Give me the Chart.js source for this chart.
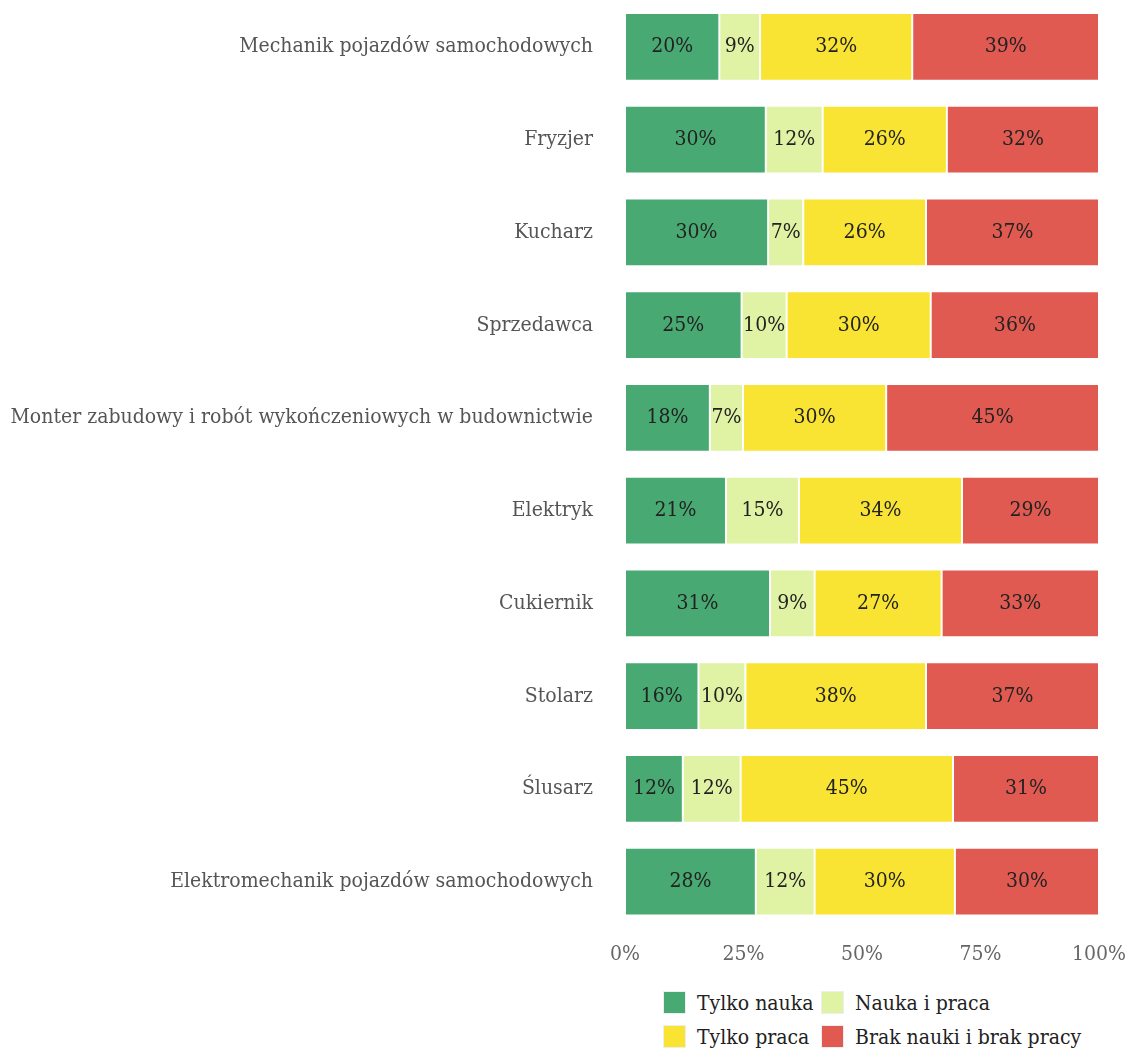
<!DOCTYPE html>
<html>
<head>
<meta charset="utf-8">
<script src="https://cdn.jsdelivr.net/npm/chart.js@4"></script>
<style>
  body { margin: 0; background: #fff; font-family: "DejaVu Serif Condensed", "DejaVu Serif", serif; }
  #wrap { position: relative; width: 1131px; height: 1050px; overflow: hidden; }
  #chart { position: absolute; left: 0; top: -12px; }
  #legend { position: absolute; left: 663px; top: 991px; display: grid;
    grid-template-columns: 158px 300px; row-gap: 11px; font-size: 21px; color: #222; }
  .item { display: flex; align-items: center; height: 23px; white-space: nowrap; }
  .box { width: 23px; height: 23px; margin-right: 11px; box-sizing: border-box; border: 1px solid #eee; flex: none; }
</style>
</head>
<body>
<div id="wrap">
  <canvas id="chart" width="1131" height="992"></canvas>
  <div id="legend"></div>
</div>
<script>
  // --------------------
  // Data
  // --------------------
  const categories = [
    "Mechanik pojazdów samochodowych",
    "Fryzjer",
    "Kucharz",
    "Sprzedawca",
    "Monter zabudowy i robót wykończeniowych w budownictwie",
    "Elektryk",
    "Cukiernik",
    "Stolarz",
    "Ślusarz",
    "Elektromechanik pojazdów samochodowych",
  ];
  const seriesNames = ["Tylko nauka", "Nauka i praca", "Tylko praca", "Brak nauki i brak pracy"];
  const tylkoNauka = [19.9, 29.7, 30.2, 24.6, 17.9, 21.3, 30.6, 15.5, 12.2, 27.6];
  const naukaIPraca = [8.6, 12.0, 7.4, 9.5, 7.0, 15.4, 9.4, 9.9, 12.2, 12.4];
  const tylkoPraca = [32.1, 26.2, 25.9, 30.4, 30.2, 34.4, 26.8, 38.1, 44.8, 29.6];
  const brak = [39.4, 32.1, 36.5, 35.5, 44.9, 28.9, 33.2, 36.5, 30.8, 30.4];
  const xTicks = [0, 25, 50, 75, 100];

  const colors = ["#48aa72", "#e0f2a3", "#f9e433", "#e05a52"];
  const seriesValues = [tylkoNauka, naukaIPraca, tylkoPraca, brak];
  const fontFamily = "'DejaVu Serif Condensed', 'DejaVu Serif', serif";

  // --------------------
  // Labels inside bars
  // --------------------
  const barLabels = {
    id: "barLabels",
    afterDatasetsDraw(chart) {
      const { ctx } = chart;
      ctx.save();
      ctx.font = "21px " + fontFamily;
      ctx.fillStyle = "#222";
      ctx.textAlign = "center";
      ctx.textBaseline = "middle";
      chart.data.datasets.forEach((ds, i) => {
        chart.getDatasetMeta(i).data.forEach((bar, j) => {
          const x = (bar.x + bar.base) / 2;
          ctx.fillText(Math.round(ds.data[j]) + "%", x, bar.y);
        });
      });
      ctx.restore();
    },
  };

  const ctx = document.getElementById("chart").getContext("2d");
  new Chart(ctx, {
    type: "bar",
    data: {
      labels: categories,
      datasets: seriesNames.map((name, i) => ({
        label: name,
        data: seriesValues[i],
        backgroundColor: colors[i],
        borderColor: "#ffffff",
        borderWidth: 1,
        borderSkipped: false,
        categoryPercentage: 1,
        barPercentage: 0.73,
      })),
    },
    options: {
      indexAxis: "y",
      responsive: false,
      animation: false,
      layout: { padding: { top: 0, right: 32, left: 0, bottom: 0 } },
      plugins: {
        legend: { display: false },
        tooltip: { enabled: false },
      },
      scales: {
        x: {
          stacked: true,
          min: 0,
          max: 100,
          // tick gap comes from tickLength so it does not pad the chart area
          grid: { display: false, drawTicks: true, tickLength: 14 },
          border: { display: false },
          afterBuildTicks: (axis) => { axis.ticks = xTicks.map((v) => ({ value: v })); },
          afterFit: (axis) => { axis.height = 52; },
          ticks: {
            padding: 0,
            color: "#666",
            font: { family: fontFamily, size: 21 },
            callback: (v) => v + "%",
          },
        },
        y: {
          stacked: true,
          grid: { display: false, drawTicks: true, tickLength: 32 },
          border: { display: false },
          afterFit: (axis) => { axis.width = 625; },
          ticks: {
            padding: 0,
            color: "#555",
            font: { family: fontFamily, size: 21 },
          },
        },
      },
    },
    plugins: [barLabels],
  });

  // --------------------
  // Legend (2 x 2 grid)
  // --------------------
  const legend = document.getElementById("legend");
  seriesNames.forEach((name, i) => {
    const item = document.createElement("div");
    item.className = "item";
    item.innerHTML = `<span class="box" style="background:${colors[i]}"></span><span>${name}</span>`;
    legend.appendChild(item);
  });
</script>
</body>
</html>
